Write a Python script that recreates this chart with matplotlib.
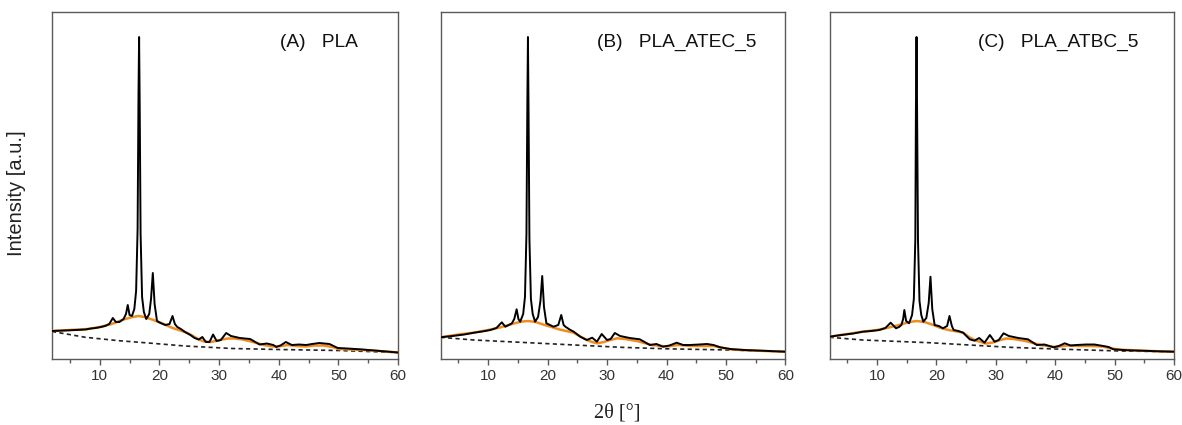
import matplotlib
matplotlib.use("Agg")
import matplotlib.pyplot as plt
from matplotlib.ticker import MultipleLocator

# ---------------- data ----------------
titles = ["(A)   PLA", "(B)   PLA_ATEC_5", "(C)   PLA_ATBC_5"]
title_xpos = [0.66, 0.453, 0.43]

# Panel A
A_x = [2, 4, 6, 7.6, 8.5, 9.3, 10.2, 10.9, 11.6, 12.2, 12.7, 13.3, 14.0, 14.4, 14.7, 15.0, 15.4, 15.8,
       16.1, 16.35, 16.5, 16.6, 16.7, 16.85, 17.1, 17.4, 17.8, 18.3, 18.6, 18.9, 19.2, 19.6, 20.2, 21.0,
       21.7, 22.2, 22.6, 23.0, 23.6, 24.3, 25.2, 25.9, 26.6, 27.2, 27.8, 28.4, 29.0, 29.6, 30.3, 31.2,
       32.0, 33.5, 35.2, 36.8, 38.0, 39.1, 39.6, 40.3, 41.2, 42.2, 43.4, 44.6, 45.6, 46.8, 48.5, 49.9,
       51.5, 53.6, 56, 58, 60]
A_y = [28, 28.5, 29, 29.5, 30.5, 31, 32, 33, 35, 41, 37, 37, 40, 45, 54, 44, 43, 50,
       68, 130, 265, 322, 255, 125, 62, 47, 40, 45, 60, 86, 55, 38, 36, 34,
       35, 43, 35, 32, 30, 27, 24, 21, 19.5, 22, 17, 17, 24.5, 18, 19, 26,
       23, 21, 20, 14.5, 15.5, 14, 12, 13.5, 17, 14, 14.5, 14, 15, 16, 15, 11,
       10.5, 9.7, 8.5, 7.5, 6.5]
A_amx = [2, 5, 8, 10, 12, 14, 15.5, 16.5, 17.5, 19, 20.5, 22, 23.5, 24.5, 25.5, 26.6, 27.5, 28.5,
         29.5, 30.5, 31.5, 32.5, 34, 36, 37.5, 39, 40.5, 41.5, 43, 44.5, 46, 47.5, 49, 50, 52, 55, 58, 60]
A_amy = [28, 29, 30, 32, 35, 39.5, 42, 43, 42, 39, 35.5, 31.5, 28.5, 26.5, 23.5, 19.5, 17.5, 17,
         18, 19.5, 20.5, 20.5, 19.5, 16.5, 14, 12.5, 13, 14, 13, 12.5, 13.5, 13.5, 12, 10, 9.5, 8.8, 7.5, 6.5]
A_bx = [2, 7.6, 13.2, 18.8, 24.3, 32.2, 40, 50, 60]
A_by = [27.5, 21.7, 18.3, 15.7, 13, 10.5, 9.5, 8.5, 6.5]

# Panel B
B_x = [2, 4, 6, 7.6, 9.0, 10.4, 11.4, 12.3, 12.9, 13.5, 14.0, 14.4, 14.8, 15.1, 15.4, 15.9,
       16.2, 16.45, 16.6, 16.7, 16.8, 16.95, 17.2, 17.5, 17.9, 18.4, 18.8, 19.1, 19.4, 19.8, 20.4,
       21.0, 21.8, 22.3, 22.7, 23.0, 23.7, 24.4, 25.5, 26.6, 27.5, 28.3, 29.1, 30.0, 30.6, 31.3,
       32.2, 33.8, 35.5, 37.2, 38.3, 39.4, 40.5, 41.7, 42.8, 43.9, 45.5, 46.8, 47.9, 49.0, 50.7,
       53, 56, 58, 60]
B_y = [21.7, 23, 24.5, 26.3, 27.5, 29, 31, 36.7, 32.3, 34, 35.7, 40, 49.7, 40, 37.3, 45,
       62, 125, 255, 322, 250, 120, 60, 45, 37.3, 42, 58, 83, 52, 35.7, 34,
       32.3, 34, 44, 34, 32.3, 29.5, 27.3, 22.3, 19, 21.3, 17.3, 25, 19, 20, 26,
       23, 21, 19.7, 14, 15, 12.3, 13.5, 16.3, 14, 14, 14.5, 15, 14, 11.7, 10,
       9, 8.3, 7.8, 7.3]
B_amx = [2, 5, 7.6, 10, 12, 14, 15.5, 16.7, 18, 19.5, 20.5, 22, 23.5, 24.4, 25.5, 26.6, 27.5, 28.3,
         29.5, 30.5, 31.7, 33, 35, 37.5, 40, 42, 44, 46, 48, 49.5, 51, 54, 57, 60]
B_amy = [21.7, 24.5, 26.3, 29, 31.5, 35, 37.3, 38, 37, 34, 32.3, 29.5, 27.5, 26.3, 22.5, 19, 17, 15.7,
         17, 19, 20.7, 20, 18, 14, 12.5, 14, 13, 13, 13, 11, 9.5, 8.6, 7.9, 7.3]
B_bx = [2, 7.6, 18.8, 32.3, 40, 50.7, 60]
B_by = [21.7, 19, 15.7, 11.7, 10.2, 9, 7.3]

# Panel C
C_x = [2, 4, 6, 7.6, 9.0, 10.4, 11.4, 12.3, 13.2, 13.7, 14.1, 14.4, 14.6, 14.9, 15.4, 15.9,
       16.2, 16.45, 16.55, 16.65, 16.75, 16.9, 17.15, 17.45, 17.8, 18.3, 18.7, 19.0, 19.3, 19.7, 20.4,
       21.1, 21.8, 22.2, 22.6, 22.9, 23.7, 24.5, 25.6, 26.4, 27.2, 28.1, 29.0, 29.8, 30.5, 31.3,
       32.2, 33.8, 35.4, 36.9, 38.2, 39.7, 40.6, 41.6, 42.6, 43.6, 45.2, 46.6, 48.1, 49.0, 49.8,
       52, 55, 58, 60]
C_y = [22.3, 24, 25.5, 27.3, 28, 29, 31, 36.3, 30.7, 32, 34, 40, 49, 38, 35.7, 44,
       60, 120, 250, 322, 245, 118, 58, 44, 37.3, 41, 56, 82.3, 50, 34, 33,
       30.7, 33, 43, 33, 29, 28, 26.3, 19.7, 18.3, 21, 16.3, 24, 17.3, 19, 25.7,
       23, 21, 19.7, 14, 14.5, 11.7, 13, 15.7, 13.5, 14, 14.5, 14.5, 13, 12, 9.7,
       8.8, 8.2, 7.6, 7.3]
C_amx = [2, 5, 7.6, 10, 12, 14, 15.5, 16.7, 18, 19.5, 20.5, 22, 23.5, 24.5, 25.6, 26.6, 27.5, 28.3,
         29.5, 30.5, 31.7, 33, 35, 37.5, 40, 42, 44, 46, 48, 49.5, 51, 54, 57, 60]
C_amy = [22.3, 25, 27.3, 29, 31.5, 34.5, 37, 38, 37, 34, 31.5, 29, 27.5, 26.3, 21.5, 18.5, 17, 15.5,
         16.5, 18.5, 20.5, 20, 18, 14, 12, 13.5, 13, 13, 12.5, 10.5, 9.3, 8.5, 7.8, 7.3]
C_bx = [2, 7.6, 18.8, 32.3, 40, 50.9, 60]
C_by = [21.7, 19, 16.3, 11.7, 10, 8, 7.3]

panels = [
    (A_x, A_y, A_amx, A_amy, A_bx, A_by),
    (B_x, B_y, B_amx, B_amy, B_bx, B_by),
    (C_x, C_y, C_amx, C_amy, C_bx, C_by),
]

# ---------------- figure ----------------
W, H = 1182, 425
fig = plt.figure(figsize=(W / 100, H / 100), dpi=100)
lefts = [52, 440.5, 829.5]
widths = [346, 345, 344.5]
ax_bottom, ax_top = 359, 12
spine_col = "#5a5a5a"

for i, (x, y, amx, amy, bx, by) in enumerate(panels):
    ax = fig.add_axes([lefts[i] / W, (H - ax_bottom) / H, widths[i] / W, (ax_bottom - ax_top) / H])
    ax.plot(bx, by, color="#222222", lw=1.2, ls=(0, (2.5, 2)), zorder=2)
    ax.plot(amx, amy, color="#f28c1c", lw=1.8, zorder=3)
    ax.plot(x, y, color="black", lw=1.4, zorder=4, solid_joinstyle="round")
    ax.set_xlim(2, 60)
    ax.set_ylim(0, 347)
    ax.xaxis.set_major_locator(MultipleLocator(10))
    ax.xaxis.set_minor_locator(MultipleLocator(5))
    ax.set_yticks([])
    ax.tick_params(axis="x", which="major", direction="out", length=4, width=1,
                   color=spine_col, labelsize=11, labelcolor="#333333", pad=3)
    ax.tick_params(axis="x", which="minor", direction="out", length=3, width=1, color=spine_col)
    for lab in ax.get_xticklabels():
        lab.set_fontfamily("Liberation Sans")
    for s in ax.spines.values():
        s.set_color(spine_col)
        s.set_linewidth(1.0)
    ax.text(title_xpos[i], 0.913, titles[i], transform=ax.transAxes, ha="left", va="center",
            fontsize=13.8, family="Liberation Sans", color="#111111")

fig.text(17 / W, 1 - 193 / H, "Intensity [a.u.]", rotation=90, ha="center", va="center",
         fontsize=14.5, family="Liberation Sans", color="#222222")
fig.text(617 / W, 1 - 413 / H, "2θ [°]", ha="center", va="center",
         fontsize=14.5, family="Liberation Serif", color="#222222")

fig.savefig("out.png", dpi=100)
